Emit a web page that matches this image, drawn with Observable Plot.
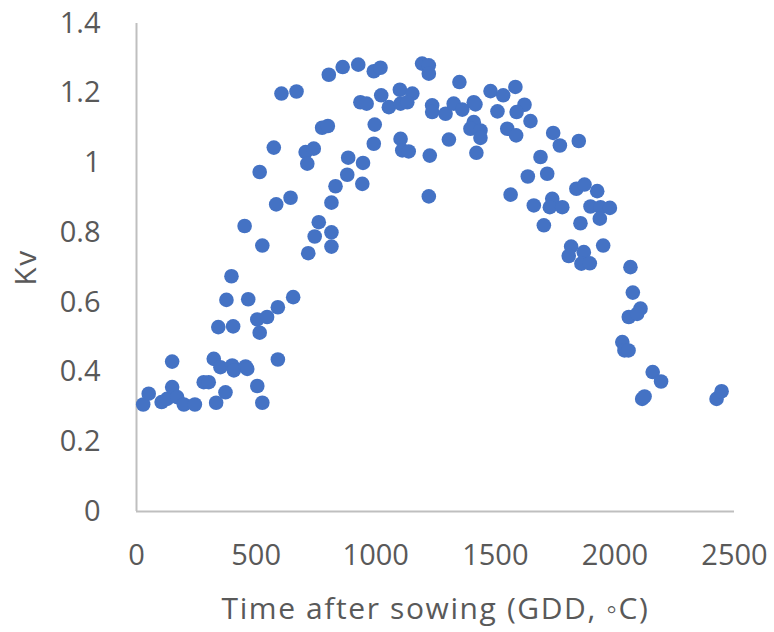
<!DOCTYPE html>
<html>
<head>
<meta charset="utf-8">
<script src="https://cdn.jsdelivr.net/npm/d3@7"></script>
<script src="https://cdn.jsdelivr.net/npm/@observablehq/plot@0.6"></script>
<style>
  html, body { margin: 0; padding: 0; background: #fff; }
  #chart svg { display: block; }
  #chart g[aria-label="text"] text { letter-spacing: 1.6px; }
</style>
</head>
<body>
<div id="chart"></div>
<script>
// Crop coefficient Kv against thermal time since sowing
const gdd = [
  28, 51, 105, 128, 149, 170, 198, 244, 149, 281, 302, 323, 351, 400, 407, 456, 463,
  333, 372, 505, 526, 591, 342, 404, 376, 467, 397, 505, 546, 515, 591, 655,
  452, 526, 515, 574, 606, 669, 776, 800, 707, 741, 714, 832, 815, 644, 584,
  762, 745, 815, 815, 718, 804, 862, 927, 992, 1020, 1194, 1222, 1222, 1350,
  1480, 1533, 1584, 1622, 1589, 1647, 1509, 1550, 1587, 936, 962, 1023, 1055,
  1101, 1104, 1153, 1132, 1236, 1236, 1292, 1326, 1362, 1410, 1417, 1410, 1396,
  1438, 1438, 996, 992, 1104, 1111, 1138, 1306, 1226, 1421, 1689, 885, 947,
  881, 944, 1222, 1564, 1742, 1770, 1849, 1636, 1717, 1839, 1873, 1926, 1661,
  1738, 1728, 1780, 1898, 1940, 1979, 1937, 1703, 1856, 1817, 1807, 1870, 1860,
  1895, 1951, 2065, 2075, 2107, 2058, 2093, 2031, 2040, 2057, 2158, 2193, 2114,
  2124, 2425, 2446
];
const kv = [
  0.307, 0.338, 0.314, 0.323, 0.357, 0.328, 0.307, 0.307, 0.430, 0.371, 0.371, 0.438, 0.414, 0.419, 0.405, 0.416, 0.409,
  0.312, 0.342, 0.360, 0.312, 0.436, 0.529, 0.531, 0.607, 0.609, 0.675, 0.551, 0.558, 0.513, 0.586, 0.615,
  0.819, 0.763, 0.974, 1.044, 1.199, 1.205, 1.101, 1.106, 1.031, 1.041, 0.998, 0.933, 0.886, 0.900, 0.881,
  0.830, 0.789, 0.801, 0.760, 0.741, 1.253, 1.275, 1.282, 1.263, 1.273, 1.285, 1.280, 1.256, 1.232,
  1.206, 1.194, 1.218, 1.167, 1.146, 1.120, 1.148, 1.098, 1.079, 1.174, 1.170, 1.194, 1.160,
  1.210, 1.170, 1.199, 1.174, 1.165, 1.146, 1.141, 1.170, 1.153, 1.174, 1.168, 1.117, 1.098,
  1.093, 1.072, 1.110, 1.055, 1.069, 1.036, 1.033, 1.067, 1.021, 1.029, 1.017, 1.015, 1.000,
  0.966, 0.940, 0.904, 0.909, 1.086, 1.050, 1.063, 0.961, 0.969, 0.926, 0.938, 0.919, 0.878,
  0.897, 0.873, 0.873, 0.875, 0.873, 0.871, 0.840, 0.821, 0.827, 0.760, 0.733, 0.744, 0.711,
  0.712, 0.763, 0.701, 0.628, 0.582, 0.558, 0.567, 0.486, 0.462, 0.462, 0.400, 0.373, 0.323,
  0.330, 0.323, 0.345
];
const xTicks = [0, 500, 1000, 1500, 2000, 2500];
const yTicks = [0, 0.2, 0.4, 0.6, 0.8, 1, 1.2, 1.4];
const xTitle = "Time after sowing (GDD, ◦C)";
const yTitle = "Kv";

const points = gdd.map((g, i) => ({gdd: g, kv: kv[i]}));

const textColor = "#595959";
const axisColor = "#bfbfbf";
const fontSize = 29;

const chart = Plot.plot({
  width: 774,
  height: 632,
  marginLeft: 136,
  marginRight: 40,
  marginTop: 23,
  marginBottom: 121,
  style: {fontFamily: "'Open Sans', 'Noto Sans', sans-serif", background: "#fff"},
  x: {domain: [0, 2500]},
  y: {domain: [0, 1.4]},
  marks: [
    Plot.axisX({ticks: xTicks, tickSize: 0, tickPadding: 33, fontSize, color: textColor, label: null, tickFormat: d => String(d)}),
    Plot.axisY({ticks: yTicks, tickSize: 0, tickPadding: 36, fontSize, color: textColor, label: null, tickFormat: d => String(d)}),
    Plot.ruleX([0], {stroke: axisColor, strokeWidth: 2}),
    Plot.ruleY([0], {stroke: axisColor, strokeWidth: 2}),
    Plot.dot(points, {x: "gdd", y: "kv", r: 7.3, fill: "#4472C4", stroke: "none"}),
    Plot.text([xTitle], {text: d => d, frameAnchor: "bottom", textAnchor: "middle", dy: 107, fontSize: 30, fill: textColor}),
    Plot.text([yTitle], {text: d => d, frameAnchor: "left", textAnchor: "middle", dx: -110, rotate: -90, fontSize: 30, fill: textColor})
  ]
});

document.getElementById("chart").append(chart);
</script>
</body>
</html>
